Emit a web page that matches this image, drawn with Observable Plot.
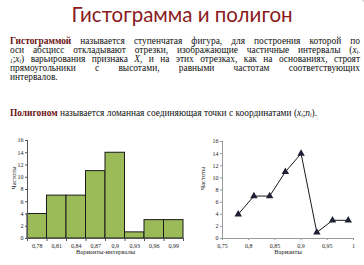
<!DOCTYPE html>
<html><head><meta charset="utf-8">
<script src="https://cdn.jsdelivr.net/npm/d3@7"></script>
<script src="https://cdn.jsdelivr.net/npm/@observablehq/plot@0.6"></script>
<style>
html,body{margin:0;padding:0;background:#fff;overflow:hidden;}
#page{position:relative;width:364px;height:265px;overflow:hidden;}
#corner{position:absolute;left:-6px;top:-6px;width:374px;height:320px;border:1px solid #b8b8b8;border-radius:18px;box-sizing:border-box;}
#title{position:absolute;left:0;top:2px;width:364px;text-align:center;font-family:Lato,"Open Sans",sans-serif;font-size:20.5px;line-height:24px;color:#8a1a1c;}
.ln{position:absolute;left:10px;width:350px;height:9px;font-family:"Liberation Serif","Times New Roman",Times,"DejaVu Serif",serif;font-size:9.4px;line-height:9px;color:#111;text-align:justify;text-align-last:justify;white-space:nowrap;}
.ln.last{text-align-last:left;}
.ln b{color:#6b1214;}
sub{font-size:5.5px;vertical-align:-1px;line-height:0;}
#hist{position:absolute;left:0;top:130px;}
#poly{position:absolute;left:180px;top:130px;}
</style></head>
<body><div id="page">
<div id="corner"></div>
<div id="title">Гистограмма и полигон</div>
<div class="ln" style="top:37px"><b>Гистограммой</b> называется ступенчатая фигура, для построения которой по</div>
<div class="ln" style="top:46px">оси абсцисс откладывают отрезки, изображающие частичные интервалы (<i>x</i><sub><i>i</i>-</sub></div>
<div class="ln" style="top:55px"><sub>1</sub>;<i>x</i><sub><i>i</i></sub>) варьирования признака <i>X</i>, и на этих отрезках, как на основаниях, строят</div>
<div class="ln" style="top:64px">прямоугольники с высотами, равными частотам соответствующих</div>
<div class="ln last" style="top:73px">интервалов.</div>
<div class="ln last" style="top:109px"><b>Полигоном</b> называется ломанная соединяющая точки с координатами (<i>x</i><sub><i>i</i></sub>;<i>n</i><sub><i>i</i></sub>).</div>
<div id="hist"></div>
<div id="poly"></div>
</div>
<script>
const variants = [0.78, 0.81, 0.84, 0.87, 0.9, 0.93, 0.96, 0.99];
const freqs = [4, 7, 7, 11, 14, 1, 3, 3];
const binWidth = 0.03;
const yTicks = [0, 2, 4, 6, 8, 10, 12, 14, 16];
const polyXTicks = [0.75, 0.8, 0.85, 0.9, 0.95, 1];
const histXLabel = "Варианты-интервалы";
const polyXLabel = "Варианты";
const yLabel = "Частоты";

const data = variants.map((v, i) => ({x: v, n: freqs[i]}));
const edges = variants.map(v => v - binWidth / 2).concat([variants[variants.length - 1] + binWidth / 2]);
const fmt = d => String(d).replace(".", ",");
const font = "'Liberation Serif', 'Times New Roman', Times, 'DejaVu Serif', serif";

const hist = Plot.plot({
  width: 185, height: 130,
  marginLeft: 27, marginRight: 2, marginTop: 10, marginBottom: 22,
  style: {fontFamily: font, fontSize: "6px", color: "#222", background: "transparent"},
  x: {domain: [edges[0], edges[edges.length - 1]]},
  y: {domain: [0, 16]},
  marks: [
    Plot.rectY(data, {x1: d => d.x - binWidth / 2, x2: d => d.x + binWidth / 2, y: "n", fill: "#9bbb59", stroke: "#1a1a1a", strokeWidth: 1}),
    Plot.ruleX([edges[0]], {stroke: "#555"}),
    Plot.ruleY([0], {stroke: "#555"}),
    Plot.axisY(yTicks, {tickSize: 2, tickPadding: 2, label: null, stroke: "#555", fontFamily: font}),
    Plot.axisX(edges, {tickSize: 3, tickFormat: () => "", label: null, stroke: "#555"}),
    Plot.axisX(variants, {tickSize: 0, tickPadding: 5, tickFormat: fmt, label: null, fontFamily: font}),
    Plot.text([histXLabel], {frameAnchor: "bottom", dy: 15, fontSize: 6.5, fontFamily: font}),
    Plot.text([yLabel], {frameAnchor: "left", dx: -14, rotate: -90, fontSize: 6.5, fontFamily: font})
  ]
});
document.getElementById("hist").appendChild(hist);

const poly = Plot.plot({
  width: 184, height: 130,
  marginLeft: 42, marginRight: 11, marginTop: 11, marginBottom: 22,
  style: {fontFamily: font, fontSize: "6px", color: "#222", background: "transparent"},
  x: {domain: [0.75, 1]},
  y: {domain: [0, 16]},
  marks: [
    Plot.ruleX([0.75], {stroke: "#999"}),
    Plot.ruleY([0], {stroke: "#999"}),
    Plot.axisY(yTicks, {tickSize: 2, tickPadding: 2, label: null, stroke: "#999", fontFamily: font}),
    Plot.axisX(polyXTicks, {tickSize: 2, tickPadding: 3, tickFormat: fmt, label: null, stroke: "#999", fontFamily: font}),
    Plot.line(data, {x: "x", y: "n", stroke: "#1a1a1a", strokeWidth: 1}),
    Plot.dot(data, {x: "x", y: "n", symbol: "triangle", r: 1.8, fill: "#1f2035", stroke: "#1f2035"}),
    Plot.text([polyXLabel], {frameAnchor: "bottom", dy: 15, fontSize: 6.5, fontFamily: font}),
    Plot.text([yLabel], {frameAnchor: "left", dx: -20, rotate: -90, fontSize: 6.5, fontFamily: font})
  ]
});
document.getElementById("poly").appendChild(poly);
</script>
</body></html>
